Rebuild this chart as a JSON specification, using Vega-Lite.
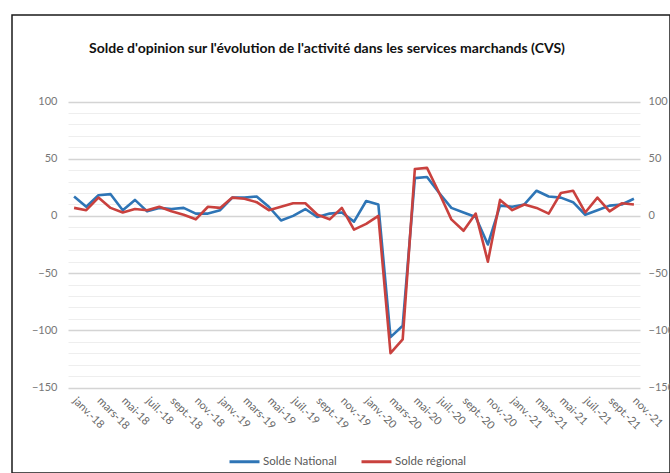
{
  "$schema": "https://vega.github.io/schema/vega-lite/v6.json",
  "autosize": {"type": "none"},
  "padding": {"left": 12, "top": 15, "right": 0, "bottom": 0},
  "width": 658,
  "height": 458,
  "background": "white",
  "config": {
    "view": {"stroke": "#1a1a1a", "strokeWidth": 1.5},
    "font": "Lato"
  },
  "title": {
    "text": "Solde d'opinion sur l'évolution de l'activité dans les services marchands (CVS)",
    "font": "Lato",
    "fontSize": 14,
    "fontWeight": "bold",
    "color": "#111111",
    "frame": "group",
    "anchor": "middle",
    "baseline": "alphabetic",
    "offset": -52,
    "dx": -14
  },
  "data": {
    "values": [
      {"m": "janv.-18", "Solde National": 17, "Solde régional": 7},
      {"m": "févr.-18", "Solde National": 8, "Solde régional": 5},
      {"m": "mars-18", "Solde National": 18, "Solde régional": 16},
      {"m": "avr.-18", "Solde National": 19, "Solde régional": 7},
      {"m": "mai-18", "Solde National": 5, "Solde régional": 3},
      {"m": "juin-18", "Solde National": 14, "Solde régional": 6},
      {"m": "juil.-18", "Solde National": 4, "Solde régional": 5},
      {"m": "août-18", "Solde National": 7, "Solde régional": 8},
      {"m": "sept.-18", "Solde National": 6, "Solde régional": 4},
      {"m": "oct.-18", "Solde National": 7, "Solde régional": 1},
      {"m": "nov.-18", "Solde National": 2, "Solde régional": -3},
      {"m": "déc.-18", "Solde National": 2, "Solde régional": 8},
      {"m": "janv.-19", "Solde National": 5, "Solde régional": 7},
      {"m": "févr.-19", "Solde National": 16, "Solde régional": 16},
      {"m": "mars-19", "Solde National": 16, "Solde régional": 15},
      {"m": "avr.-19", "Solde National": 17, "Solde régional": 12},
      {"m": "mai-19", "Solde National": 8, "Solde régional": 5},
      {"m": "juin-19", "Solde National": -4, "Solde régional": 8},
      {"m": "juil.-19", "Solde National": 0, "Solde régional": 11},
      {"m": "août-19", "Solde National": 6, "Solde régional": 11},
      {"m": "sept.-19", "Solde National": -1, "Solde régional": 1},
      {"m": "oct.-19", "Solde National": 2, "Solde régional": -3},
      {"m": "nov.-19", "Solde National": 3, "Solde régional": 7},
      {"m": "déc.-19", "Solde National": -5, "Solde régional": -12},
      {"m": "janv.-20", "Solde National": 13, "Solde régional": -7},
      {"m": "févr.-20", "Solde National": 10, "Solde régional": 0},
      {"m": "mars-20", "Solde National": -106, "Solde régional": -120},
      {"m": "avr.-20", "Solde National": -96, "Solde régional": -108},
      {"m": "mai-20", "Solde National": 33, "Solde régional": 41},
      {"m": "juin-20", "Solde National": 34, "Solde régional": 42},
      {"m": "juil.-20", "Solde National": 20, "Solde régional": 20},
      {"m": "août-20", "Solde National": 7, "Solde régional": -3},
      {"m": "sept.-20", "Solde National": 3, "Solde régional": -13},
      {"m": "oct.-20", "Solde National": -1, "Solde régional": 2},
      {"m": "nov.-20", "Solde National": -25, "Solde régional": -40},
      {"m": "déc.-20", "Solde National": 9, "Solde régional": 14},
      {"m": "janv.-21", "Solde National": 8, "Solde régional": 5},
      {"m": "févr.-21", "Solde National": 10, "Solde régional": 10},
      {"m": "mars-21", "Solde National": 22, "Solde régional": 7},
      {"m": "avr.-21", "Solde National": 17, "Solde régional": 2},
      {"m": "mai-21", "Solde National": 16, "Solde régional": 20},
      {"m": "juin-21", "Solde National": 12, "Solde régional": 22},
      {"m": "juil.-21", "Solde National": 1, "Solde régional": 3},
      {"m": "août-21", "Solde National": 5, "Solde régional": 16},
      {"m": "sept.-21", "Solde National": 9, "Solde régional": 4},
      {"m": "oct.-21", "Solde National": 10, "Solde régional": 11},
      {"m": "nov.-21", "Solde National": 15, "Solde régional": 10}
    ]
  },
  "transform": [
    {"fold": ["Solde National", "Solde régional"], "as": ["serie", "v"]}
  ],
  "encoding": {
    "x": {
      "field": "m",
      "type": "nominal",
      "sort": null,
      "title": null,
      "scale": {"type": "point", "range": [56, 628], "padding": 0.5},
      "axis": {
        "orient": "bottom",
        "offset": -85,
        "values": ["janv.-18", "mars-18", "mai-18", "juil.-18", "sept.-18", "nov.-18", "janv.-19", "mars-19", "mai-19", "juil.-19", "sept.-19", "nov.-19", "janv.-20", "mars-20", "mai-20", "juil.-20", "sept.-20", "nov.-20", "janv.-21", "mars-21", "mai-21", "juil.-21", "sept.-21", "nov.-21"],
        "labelAngle": 45,
        "labelAlign": "left",
        "labelBaseline": "middle",
        "labelPadding": 11,
        "labelFont": "Lato",
        "labelFontSize": 11,
        "labelColor": "#666666",
        "labelOverlap": false,
        "ticks": false,
        "domain": false,
        "grid": false
      }
    },
    "color": {
      "field": "serie",
      "type": "nominal",
      "scale": {"domain": ["Solde National", "Solde régional"], "range": ["#2E75B6", "#C9413E"]},
      "legend": {
        "title": null,
        "orient": "none",
        "legendX": 216,
        "legendY": 430,
        "direction": "horizontal",
        "symbolType": "stroke",
        "symbolSize": 900,
        "symbolStrokeWidth": 3,
        "labelFont": "Lato",
        "labelFontSize": 11.5,
        "labelColor": "#595959",
        "labelOffset": 2,
        "columnPadding": 18
      }
    }
  },
  "layer": [
    {
      "mark": {"type": "line", "strokeWidth": 2.6, "strokeJoin": "round"},
      "encoding": {
        "y": {
          "field": "v",
          "type": "quantitative",
          "title": null,
          "scale": {"domain": [-150, 100], "range": [372.5, 86.5], "nice": false, "zero": false},
          "axis": {
            "orient": "left",
            "offset": -56,
            "values": [-150, -140, -130, -120, -110, -100, -90, -80, -70, -60, -50, -40, -30, -20, -10, 0, 10, 20, 30, 40, 50, 60, 70, 80, 90, 100],
            "labelExpr": "datum.value % 50 === 0 ? datum.label : ''",
            "labelPadding": 11,
            "labelFont": "Lato",
            "labelFontSize": 11,
            "labelColor": "#777777",
            "ticks": false,
            "domain": false,
            "grid": true,
            "gridColor": {"condition": {"test": "datum.value % 50 === 0", "value": "#d4d4d4"}, "value": "#eeeeee"},
            "gridWidth": {"condition": {"test": "datum.value % 50 === 0", "value": 1.3}, "value": 1}
          }
        }
      }
    },
    {
      "mark": {"type": "line", "strokeOpacity": 0},
      "encoding": {
        "y": {
          "field": "v",
          "type": "quantitative",
          "title": null,
          "scale": {"domain": [-150, 100], "range": [372.5, 86.5], "nice": false, "zero": false},
          "axis": {
            "orient": "right",
            "offset": -30,
            "values": [-150, -100, -50, 0, 50, 100],
            "labelPadding": 8,
            "labelFont": "Lato",
            "labelFontSize": 11,
            "labelColor": "#777777",
            "ticks": false,
            "domain": false,
            "grid": false
          }
        }
      }
    }
  ],
  "resolve": {"scale": {"y": "independent"}}
}
